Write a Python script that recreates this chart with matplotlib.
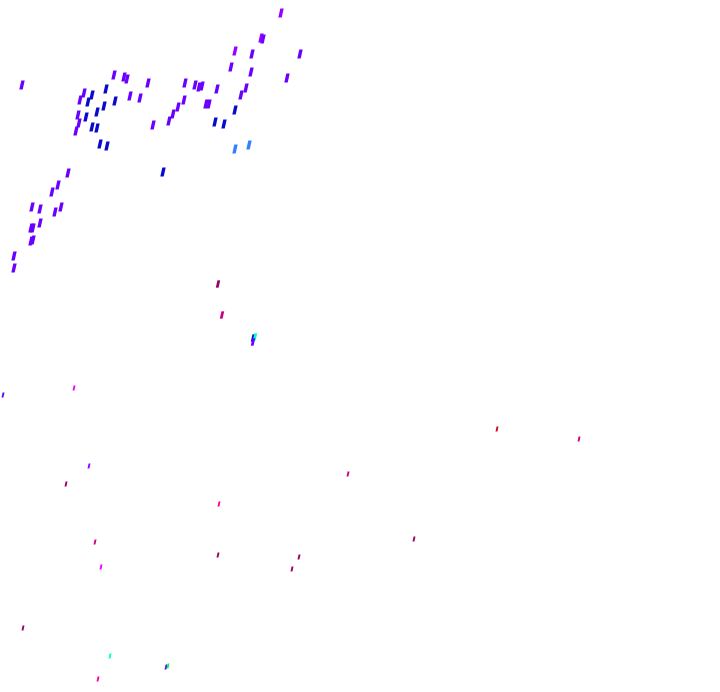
import numpy as np
import matplotlib.pyplot as plt
from matplotlib.path import Path

# point positions (pixel-like units, y grows downward)
x = [22, 114, 124, 127, 148, 84, 92, 106, 80, 88, 130, 140, 104, 115, 78, 86, 97,
     79, 76, 92, 97, 153, 100, 107, 68,
     281, 261, 263, 235, 252, 300, 231, 251, 287, 185, 195, 199, 202, 217, 246, 241,
     184, 178, 173, 169, 206, 209, 235, 215, 224, 235, 249, 163,
     58, 52, 32, 40, 61, 55, 40, 31, 33, 31, 33, 14, 14,
     218, 222, 253, 255, 253,
     3, 74, 89, 66, 497, 579, 348, 219, 95, 414, 218, 299, 101, 292, 23, 110, 166, 168, 98]
y = [85, 75, 77, 79, 83, 93, 95, 89, 100, 102, 96, 98, 106, 101, 115, 117, 112,
     123, 131, 127, 128, 125, 144, 146, 173,
     13, 38, 39, 51, 54, 54, 67, 72, 78, 83, 85, 87, 86, 89, 88, 95,
     100, 107, 114, 121, 104, 104, 110, 122, 124, 149, 145, 172,
     185, 192, 207, 209, 207, 212, 223, 228, 228, 241, 240, 256, 268,
     284, 315, 338, 337, 342,
     395, 388, 466, 484, 429, 439, 474, 504, 542, 539, 555, 557, 567, 569, 628, 656, 667, 666, 679]
kind = (['violet', 'violet', 'violet', 'violet', 'violet', 'violet', 'blue', 'blue', 'violet', 'blue',
         'violet', 'violet', 'blue', 'blue', 'violet', 'blue', 'blue', 'violet', 'violet', 'blue',
         'blue', 'violet', 'blue', 'blue', 'violet',
         'purple', 'purple', 'violet', 'purple', 'violet', 'violet', 'violet', 'violet', 'violet',
         'violet', 'violet', 'violet', 'violet', 'violet', 'violet', 'violet', 'violet', 'violet',
         'violet', 'violet', 'violet', 'violet', 'blue', 'blue', 'blue', 'lightblue', 'lightblue', 'blue']
        + ['violet'] * 13
        + ['darkmagenta', 'rose', 'blue', 'cyan', 'violet',
           'violet', 'magenta', 'purple', 'darkmagenta', 'red', 'rose', 'rose', 'pink', 'rose',
           'darkmagenta', 'darkmagenta', 'darkmagenta', 'magenta', 'darkmagenta', 'darkmagenta',
           'cyan', 'violet', 'green', 'pink'])
size_group = ['L'] * 66 + ['M'] * 5 + ['S'] * 19

palette = {'blue': '#0a0acc', 'violet': '#6a00ff', 'purple': '#9a00ff', 'lightblue': '#3380ff',
           'darkmagenta': '#990066', 'rose': '#cc0088', 'pink': '#ff0099', 'magenta': '#ee00ff',
           'red': '#dd0011', 'cyan': '#00ffcc', 'green': '#00ff44'}
sizes = {'L': 42, 'M': 28, 'S': 13}

# small slanted stroke used as marker
stroke = Path([(-0.3, -0.5), (0.08, -0.5), (0.3, 0.5), (-0.08, 0.5), (-0.3, -0.5)],
              [Path.MOVETO, Path.LINETO, Path.LINETO, Path.LINETO, Path.CLOSEPOLY])

fig = plt.figure(figsize=(7.2, 6.92), dpi=100)
ax = fig.add_axes([0, 0, 1, 1])
x = np.array(x)
y = np.array(y)
groups = np.array(size_group)
colors = np.array([palette[k] for k in kind])
for g in ['L', 'M', 'S']:
    m = groups == g
    ax.scatter(x[m], y[m], s=sizes[g], marker=stroke, c=colors[m], linewidths=0)
ax.set_xlim(0, 720)
ax.set_ylim(692, 0)
ax.axis('off')
fig.savefig('out.png', dpi=100)
